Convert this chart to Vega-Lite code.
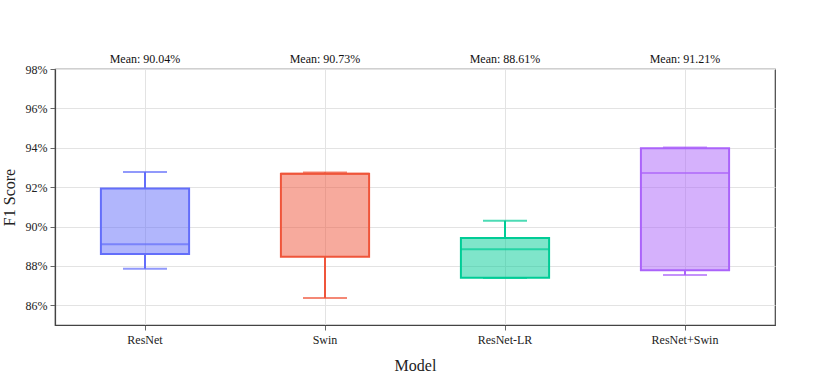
{
  "$schema": "https://vega.github.io/schema/vega-lite/v6.json",
  "autosize": {"type": "none"},
  "padding": {"left": 55, "top": 69, "right": 55, "bottom": 56},
  "width": 720,
  "height": 256,
  "background": "white",
  "config": {
    "font": "Liberation Serif",
    "view": {"stroke": "#444", "strokeWidth": 1.2},
    "style": {"guide-label": {"font": "Liberation Serif"}, "guide-title": {"font": "Liberation Serif"}},
    "axis": {
      "labelFont": "Liberation Serif",
      "titleFont": "Liberation Serif",
      "labelFontSize": 12,
      "titleFontSize": 16,
      "titleFontWeight": "normal",
      "labelColor": "#222",
      "titleColor": "#222",
      "gridColor": "#e3e3e3",
      "gridWidth": 1,
      "domainColor": "#444",
      "domainWidth": 1.2,
      "tickColor": "#666",
      "tickSize": 5
    }
  },
  "data": {
    "values": [
      {"model": "ResNet", "min": 87.86, "q1": 88.61, "median": 89.10, "q3": 91.93, "max": 92.77, "mean": 90.04},
      {"model": "Swin", "min": 86.37, "q1": 88.46, "median": 92.68, "q3": 92.68, "max": 92.75, "mean": 90.73},
      {"model": "ResNet-LR", "min": 87.39, "q1": 87.40, "median": 88.85, "q3": 89.42, "max": 90.29, "mean": 88.61},
      {"model": "ResNet+Swin", "min": 87.54, "q1": 87.78, "median": 92.72, "q3": 93.97, "max": 94.02, "mean": 91.21}
    ]
  },
  "encoding": {
    "x": {
      "field": "model",
      "type": "nominal",
      "sort": ["ResNet", "Swin", "ResNet-LR", "ResNet+Swin"],
      "scale": {"paddingInner": 0, "paddingOuter": 0},
      "axis": {"title": "Model", "labelAngle": 0, "grid": true, "bandPosition": 0.5, "labelPadding": 4, "titlePadding": 12, "labelFont": "Liberation Serif", "titleFont": "Liberation Serif"}
    }
  },
  "layer": [
    {
      "mark": {"type": "rule", "strokeWidth": 2},
      "encoding": {
        "y": {
          "field": "min",
          "type": "quantitative",
          "scale": {"domain": [85, 98], "nice": false, "zero": false},
          "axis": {"title": "F1 Score", "values": [86, 88, 90, 92, 94, 96, 98], "labelExpr": "datum.value + '%'", "grid": true, "titlePadding": 8, "labelPadding": 3, "labelFont": "Liberation Serif", "titleFont": "Liberation Serif"}
        },
        "y2": {"field": "q1"},
        "color": {"field": "model", "type": "nominal", "legend": null, "scale": {"domain": ["ResNet", "Swin", "ResNet-LR", "ResNet+Swin"], "range": ["#636EFA", "#EF553B", "#00CC96", "#AB63FA"]}}
      }
    },
    {
      "mark": {"type": "rule", "strokeWidth": 2},
      "encoding": {
        "y": {"field": "q3", "type": "quantitative"},
        "y2": {"field": "max"},
        "color": {"field": "model", "type": "nominal", "legend": null}
      }
    },
    {
      "mark": {"type": "tick", "size": 44, "thickness": 2, "orient": "horizontal"},
      "encoding": {
        "y": {"field": "min", "type": "quantitative"},
        "color": {"field": "model", "type": "nominal", "legend": null}
      }
    },
    {
      "mark": {"type": "tick", "size": 44, "thickness": 2, "orient": "horizontal"},
      "encoding": {
        "y": {"field": "max", "type": "quantitative"},
        "color": {"field": "model", "type": "nominal", "legend": null}
      }
    },
    {
      "mark": {"type": "bar", "width": {"band": 0.49}, "fillOpacity": 0.5, "strokeWidth": 2},
      "encoding": {
        "y": {"field": "q1", "type": "quantitative"},
        "y2": {"field": "q3"},
        "fill": {"field": "model", "type": "nominal", "legend": null, "scale": {"domain": ["ResNet", "Swin", "ResNet-LR", "ResNet+Swin"], "range": ["#636EFA", "#EF553B", "#00CC96", "#AB63FA"]}},
        "stroke": {"field": "model", "type": "nominal", "legend": null, "scale": {"domain": ["ResNet", "Swin", "ResNet-LR", "ResNet+Swin"], "range": ["#636EFA", "#EF553B", "#00CC96", "#AB63FA"]}}
      }
    },
    {
      "mark": {"type": "tick", "size": 88, "thickness": 2, "orient": "horizontal"},
      "encoding": {
        "y": {"field": "median", "type": "quantitative"},
        "color": {"field": "model", "type": "nominal", "legend": null}
      }
    },
    {
      "mark": {"type": "text", "dy": -3, "fontSize": 12, "color": "#111", "baseline": "bottom", "clip": false, "font": "Liberation Serif", "text": {"expr": "'Mean: ' + format(datum.mean, '.2f') + '%'"}},
      "encoding": {
        "y": {"datum": 98}
      }
    }
  ]
}
